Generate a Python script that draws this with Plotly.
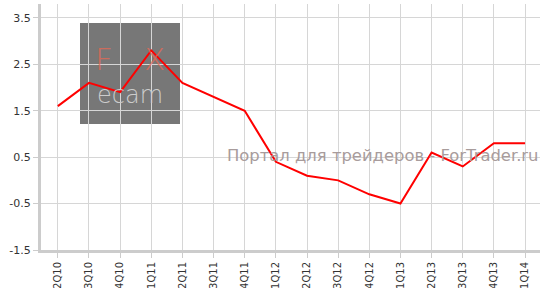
import plotly.graph_objects as go

quarters = ["2Q10", "3Q10", "4Q10", "1Q11", "2Q11", "3Q11", "4Q11", "1Q12",
            "2Q12", "3Q12", "4Q12", "1Q13", "2Q13", "3Q13", "4Q13", "1Q14"]
values = [1.6, 2.1, 1.9, 2.8, 2.1, 1.8, 1.5, 0.4,
          0.1, 0.0, -0.3, -0.5, 0.6, 0.3, 0.8, 0.8]
y_ticks = [-1.5, -0.5, 0.5, 1.5, 2.5, 3.5]
y_tick_text = ["-1.5", "-0.5", "0.5", "1.5", "2.5", "3.5"]

W, H = 546, 288
ML, MR, MT, MB = 41, 6, 4, 38
PW, PH = W - ML - MR, H - MT - MB


def px(x):
    return (x - ML) / PW


def py(y):
    return 1 - (y - MT) / PH


fig = go.Figure()
fig.add_trace(go.Scatter(
    x=list(range(len(quarters))), y=values, mode="lines",
    line=dict(color="#ff0000", width=2), hoverinfo="skip", showlegend=False,
))

fig.add_shape(type="rect", xref="paper", yref="paper",
              x0=px(80), x1=px(180), y0=py(124), y1=py(23),
              fillcolor="#777777", line=dict(width=0), layer="below")

logo_red = "rgba(232,105,85,0.75)"
for letter, cx in (("F", 104), ("X", 154)):
    fig.add_annotation(xref="paper", yref="paper", x=px(cx), y=py(79),
                       text=letter, showarrow=False,
                       font=dict(family="DejaVu Sans", size=31, color=logo_red, weight=200),
                       xanchor="center", yanchor="bottom")
fig.add_annotation(xref="paper", yref="paper", x=px(130), y=py(79),
                   text="ecam", showarrow=False,
                   font=dict(family="DejaVu Sans", size=24, color="#cccccc", weight=200),
                   xanchor="center", yanchor="top")
fig.add_annotation(xref="paper", yref="paper", x=px(541), y=py(155),
                   text="Портал для трейдеров - ForTrader.ru", showarrow=False,
                   font=dict(family="DejaVu Sans", size=16.4, color="#a89c9c"),
                   xanchor="right", yanchor="middle")

fig.update_layout(
    width=W, height=H,
    margin=dict(l=ML, r=MR, t=MT, b=MB),
    paper_bgcolor="white", plot_bgcolor="white",
    font=dict(family="DejaVu Sans", size=10, color="#333333"),
    xaxis=dict(
        tickmode="array", tickvals=list(range(len(quarters))), ticktext=quarters,
        range=[-0.54, 15.48], tickangle=-90, automargin=False,
        showgrid=True, gridcolor="#d6d6d6", gridwidth=1,
        showline=True, linecolor="#cccccc", linewidth=3,
        ticks="outside", ticklen=5, tickcolor="#cccccc",
        zeroline=False, tickfont=dict(size=10, color="#333333"),
    ),
    yaxis=dict(
        tickmode="array", tickvals=y_ticks, ticktext=y_tick_text,
        range=[-1.5, 3.8], automargin=False,
        showgrid=True, gridcolor="#d6d6d6", gridwidth=1,
        showline=True, linecolor="#cccccc", linewidth=3,
        ticks="outside", ticklen=5, tickcolor="#cccccc",
        zeroline=False, tickfont=dict(size=11, color="#333333"),
    ),
)

fig.write_html("out.html")
